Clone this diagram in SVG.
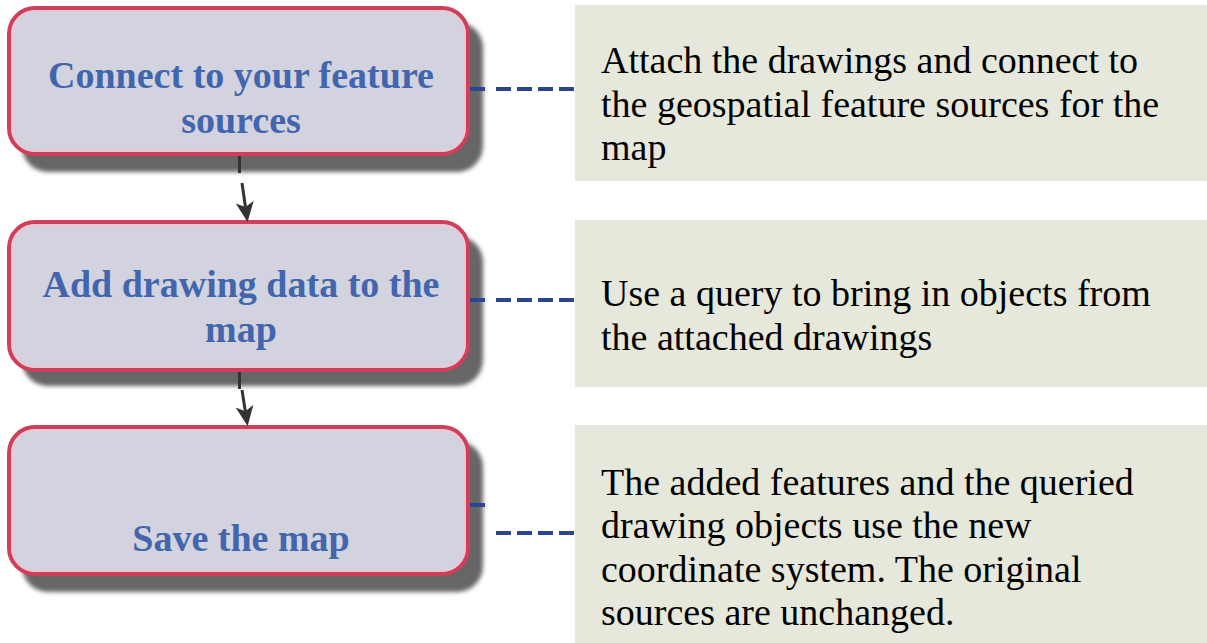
<svg xmlns="http://www.w3.org/2000/svg" width="1207" height="643" viewBox="0 0 1207 643">
<defs>
<filter id="sh" x="-10%" y="-10%" width="130%" height="140%"><feGaussianBlur stdDeviation="2"/></filter>
<marker id="ah" viewBox="0 0 20 20" refX="16" refY="10" markerWidth="20" markerHeight="20" markerUnits="userSpaceOnUse" orient="auto"><path d="M0,1 L20,10 L0,19 L5,10 Z" fill="#333"/></marker>
</defs>
<style>
.shadow{fill:#666;filter:url(#sh)}
.box{fill:#d3d3df;stroke:#cf3f5b;stroke-width:4}
.hl{fill:none;stroke:#f3c3d0;stroke-width:1.5}
.title{font-family:"Liberation Serif",serif;font-weight:bold;font-size:38px;fill:#4266ad;text-anchor:middle}
.panel{fill:#e5e8da}
.desc{font-family:"Liberation Serif",serif;font-size:38px;fill:#000}
.dash{stroke:#2b4590;stroke-width:4;fill:none;stroke-dasharray:15 6}
.stub{stroke:#2b4590;stroke-width:4;fill:none}
.flow{stroke:#333;stroke-width:3;fill:none}
</style>
<rect width="1207" height="643" fill="#fff"/>
<g id="panel1"><rect class="panel" x="575" y="5" width="632" height="176"/>
<text class="desc" x="601" y="73">Attach the drawings and connect to</text>
<text class="desc" x="601" y="117">the geospatial feature sources for the</text>
<text class="desc" x="601" y="160">map</text></g>
<g id="panel2"><rect class="panel" x="575" y="220" width="632" height="167"/>
<text class="desc" x="601" y="306">Use a query to bring in objects from</text>
<text class="desc" x="601" y="350">the attached drawings</text></g>
<g id="panel3"><rect class="panel" x="575" y="425" width="632" height="218"/>
<text class="desc" x="601" y="495">The added features and the queried</text>
<text class="desc" x="601" y="538">drawing objects use the new</text>
<text class="desc" x="601" y="582">coordinate system. The original</text>
<text class="desc" x="601" y="625">sources are unchanged.</text></g>
<g id="box1"><rect class="shadow" x="22" y="22" width="461" height="150" rx="26"/>
<rect class="box" x="9" y="8" width="459" height="146" rx="26"/>
<rect class="hl" x="12" y="11" width="453" height="140" rx="23"/>
<text class="title" x="241" y="88">Connect to your feature</text>
<text class="title" x="241" y="133">sources</text></g>
<g id="box2"><rect class="shadow" x="22" y="236" width="461" height="150" rx="26"/>
<rect class="box" x="9" y="222" width="459" height="148" rx="26"/>
<rect class="hl" x="12" y="225" width="453" height="142" rx="23"/>
<text class="title" x="241" y="297">Add drawing data to the</text>
<text class="title" x="241" y="342">map</text></g>
<g id="box3"><rect class="shadow" x="22" y="441" width="461" height="151" rx="26"/>
<rect class="box" x="9" y="427" width="459" height="147" rx="26"/>
<rect class="hl" x="12" y="430" width="453" height="141" rx="23"/>
<text class="title" x="241" y="551">Save the map</text></g>
<g id="connectors">
<line class="flow" x1="239.5" y1="156" x2="239.5" y2="173"/>
<path class="flow" d="M242,183 L247,218" marker-end="url(#ah)"/>
<line class="flow" x1="239.5" y1="372" x2="239.5" y2="389"/>
<path class="flow" d="M242,390 L247,422" marker-end="url(#ah)"/>
<line class="stub" x1="470" y1="89" x2="485" y2="89"/>
<line class="dash" x1="496" y1="89" x2="575" y2="89"/>
<line class="stub" x1="470" y1="300" x2="485" y2="300"/>
<line class="dash" x1="496" y1="300" x2="575" y2="300"/>
<line class="stub" x1="470" y1="505" x2="485" y2="505"/>
<line class="dash" x1="496" y1="533" x2="575" y2="533"/>
</g>
</svg>
